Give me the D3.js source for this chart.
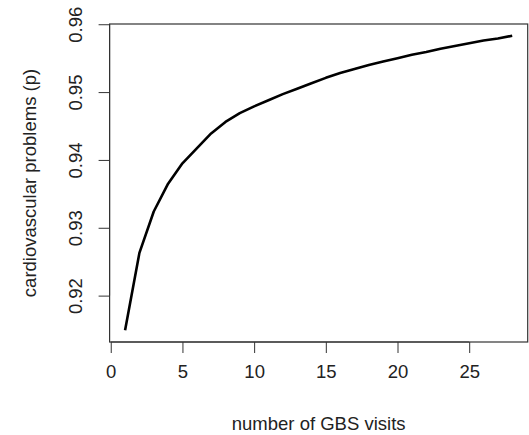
<!DOCTYPE html>
<html>
<head>
<meta charset="utf-8">
<script src="https://cdn.jsdelivr.net/npm/d3@7"></script>
<style>
  body { margin: 0; background: #fff; }
  text { font-family: "Liberation Sans", Arial, sans-serif; fill: #222; }
</style>
</head>
<body>
<div id="chart"></div>
<script>
// visits and estimated probability
var visits = [1, 2, 3, 4, 5, 6, 7, 8, 9, 10, 11, 12, 13, 14, 15, 16, 17, 18, 19, 20, 21, 22, 23, 24, 25, 26, 27, 28];
var probs = [0.9149, 0.9263, 0.9324, 0.9365, 0.9395, 0.9417, 0.9439, 0.9456, 0.9469, 0.9479,
             0.9488, 0.9497, 0.9505, 0.9513, 0.9521, 0.9528, 0.9534, 0.9540, 0.9545, 0.9550,
             0.9555, 0.9559, 0.9564, 0.9568, 0.9572, 0.9576, 0.9579, 0.9583];
var xTicks = [0, 5, 10, 15, 20, 25];
var yTicks = [0.92, 0.93, 0.94, 0.95, 0.96];

var width = 529, height = 435;
var plotLeft = 109.6, plotRight = 527.7, plotTop = 24, plotBottom = 342;
var fs = 18.5;

var svg = d3.select("#chart").append("svg").attr("width", width).attr("height", height);

// R-style 4% padding around the data range
var xr = d3.extent(visits), yr = d3.extent(probs);
var xp = (xr[1] - xr[0]) * 0.04, yp = (yr[1] - yr[0]) * 0.04;
var x = d3.scaleLinear().domain([xr[0] - xp, xr[1] + xp]).range([plotLeft, plotRight]);
var y = d3.scaleLinear().domain([yr[0] - yp, yr[1] + yp]).range([plotBottom, plotTop]);

svg.append("rect")
    .attr("x", plotLeft).attr("y", plotTop)
    .attr("width", plotRight - plotLeft).attr("height", plotBottom - plotTop)
    .attr("fill", "none").attr("stroke", "#333").attr("stroke-width", 1.2);

var line = d3.line().x(function(d, i){ return x(visits[i]); }).y(function(d){ return y(d); });
svg.append("path").datum(probs)
    .attr("d", line)
    .attr("fill", "none").attr("stroke", "#000").attr("stroke-width", 2.6)
    .attr("stroke-linejoin", "round");

var xAxis = svg.append("g").attr("transform", "translate(0," + plotBottom + ")")
    .call(d3.axisBottom(x).tickValues(xTicks).tickSize(11).tickPadding(12).tickFormat(d3.format("d")));
xAxis.select(".domain").attr("d", "M" + x(0) + ",0H" + x(25)).attr("stroke", "#333");
xAxis.selectAll("line").attr("stroke", "#333");
xAxis.selectAll("text").attr("font-size", fs).attr("fill", "#222");

var yAxis = svg.append("g").attr("transform", "translate(" + plotLeft + ",0)")
    .call(d3.axisLeft(y).tickValues(yTicks).tickSize(11).tickFormat(d3.format(".2f")));
yAxis.select(".domain").attr("d", "M0," + y(0.92) + "V" + y(0.96)).attr("stroke", "#333");
yAxis.selectAll("line").attr("stroke", "#333");
yAxis.selectAll("text")
    .attr("font-size", fs).attr("fill", "#222")
    .attr("x", null).attr("dy", null)
    .attr("text-anchor", "middle")
    .attr("transform", "translate(-28,0) rotate(-90)");

svg.append("text")
    .attr("x", (plotLeft + plotRight) / 2).attr("y", 430)
    .attr("text-anchor", "middle").attr("font-size", fs)
    .text("number of GBS visits");

svg.append("text")
    .attr("transform", "translate(36," + ((plotTop + plotBottom) / 2) + ") rotate(-90)")
    .attr("text-anchor", "middle").attr("font-size", fs)
    .text("cardiovascular problems (p)");
</script>
</body>
</html>
